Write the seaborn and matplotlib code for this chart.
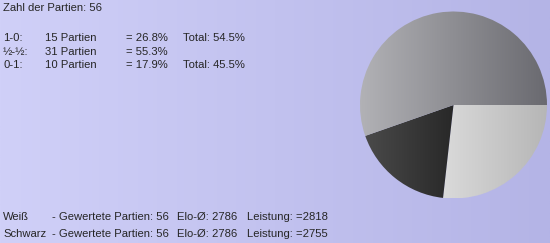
import numpy as np
import matplotlib
matplotlib.use("Agg")
import matplotlib.pyplot as plt
import seaborn as sns
from matplotlib.colors import LinearSegmentedColormap

sns.set_theme(style="white")
plt.rcParams['font.family'] = ['Liberation Sans', 'DejaVu Sans']

# Data
results = ["1-0", "0-1", "½-½"]
games = [15, 10, 31]
header = "Zahl der Partien: 56"
row_labels = ["1-0:", "½-½:", "0-1:"]
row_games = ["15 Partien", "31 Partien", "10 Partien"]
row_pct = ["= 26.8%", "= 55.3%", "= 17.9%"]
row_total = ["Total: 54.5%", "", "Total: 45.5%"]
bottom_names = ["Weiß", "Schwarz"]
bottom_games = ["- Gewertete Partien: 56", "- Gewertete Partien: 56"]
bottom_elo = ["Elo-Ø: 2786", "Elo-Ø: 2786"]
bottom_perf = ["Leistung: =2818", "Leistung: =2755"]

# gradient colours (left, right) for each slice
slice_grad = {"1-0": ("#dadada", "#b6b6b6"),
              "0-1": ("#4a4a4a", "#282828"),
              "½-½": ("#b2b2b6", "#6a6a70")}

W, H = 550, 243
fig = plt.figure(figsize=(W / 100, H / 100), dpi=100)

# background gradient
bg = fig.add_axes([0, 0, 1, 1])
bg_cmap = LinearSegmentedColormap.from_list("bg", ["#d0d0f8", "#b4b4e6"])
bg.imshow(np.linspace(0, 1, 256)[None, :], aspect="auto", cmap=bg_cmap,
          extent=(0, 1, 0, 1))
bg.set_axis_off()

fs = 8.1
def px(x, y):
    return x / W, 1 - y / H

bg.text(*px(3, 8), header, fontsize=fs, va="center", ha="left", transform=bg.transAxes)
ys = [38, 52, 65]
for i, y in enumerate(ys):
    bg.text(*px(3, y), row_labels[i], fontsize=fs, va="center", transform=bg.transAxes)
    bg.text(*px(45, y), row_games[i], fontsize=fs, va="center", transform=bg.transAxes)
    bg.text(*px(126, y), row_pct[i], fontsize=fs, va="center", transform=bg.transAxes)
    bg.text(*px(183, y), row_total[i], fontsize=fs, va="center", transform=bg.transAxes)

bys = [217, 234]
for i, y in enumerate(bys):
    bg.text(*px(3, y), bottom_names[i], fontsize=fs, va="center", transform=bg.transAxes)
    bg.text(*px(52, y), bottom_games[i], fontsize=fs, va="center", transform=bg.transAxes)
    bg.text(*px(177, y), bottom_elo[i], fontsize=fs, va="center", transform=bg.transAxes)
    bg.text(*px(247, y), bottom_perf[i], fontsize=fs, va="center", transform=bg.transAxes)

# pie
cx, cy, r = 453.5, 105, 93.5
pax = fig.add_axes([(cx - r) / W, 1 - (cy + r) / H, 2 * r / W, 2 * r / H])
wedges, _ = pax.pie(games, startangle=0, counterclock=False, radius=1,
                    colors=["none"] * len(games),
                    wedgeprops=dict(linewidth=0))
pax.set_xlim(-1, 1)
pax.set_ylim(-1, 1)
pax.set_axis_off()
fig.canvas.draw()
for w, lab in zip(wedges, results):
    verts = w.get_path().vertices
    x0, x1 = verts[:, 0].min(), verts[:, 0].max()
    cm = LinearSegmentedColormap.from_list(lab, list(slice_grad[lab]))
    im = pax.imshow(np.linspace(0, 1, 256)[None, :], aspect="auto", cmap=cm,
                    extent=(x0, x1, -1, 1), zorder=1)
    im.set_clip_path(w)
pax.set_xlim(-1, 1)
pax.set_ylim(-1, 1)

fig.savefig("out.png", dpi=100)
